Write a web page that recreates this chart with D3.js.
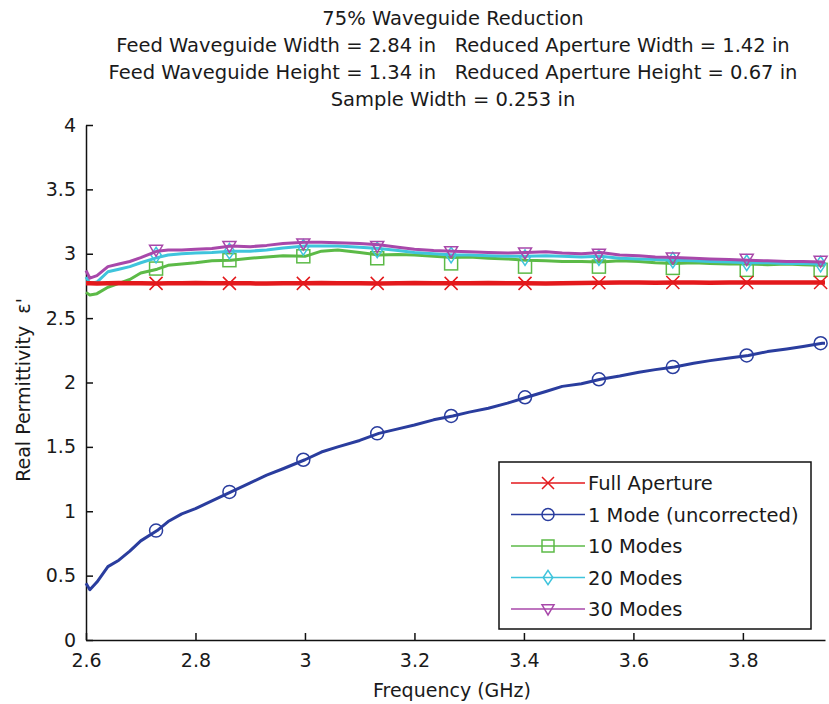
<!DOCTYPE html>
<html>
<head>
<meta charset="utf-8">
<script src="https://cdn.jsdelivr.net/npm/d3@7"></script>
<style>
  body { margin: 0; background: #fff; }
  text { font-family: "DejaVu Sans", sans-serif; fill: #1a1a1a; white-space: pre; }
</style>
</head>
<body>
<div id="chart"></div>
<script>
// Data
const freqs = [2.600, 2.607, 2.62, 2.64, 2.66, 2.68, 2.70, 2.73, 2.75, 2.775, 2.80, 2.83, 2.865, 2.90, 2.93, 2.96,
  3.00, 3.03, 3.06, 3.10, 3.135, 3.17, 3.20, 3.235, 3.27, 3.30, 3.335, 3.37, 3.405, 3.44, 3.47, 3.505,
  3.54, 3.575, 3.61, 3.64, 3.675, 3.71, 3.74, 3.775, 3.81, 3.845, 3.88, 3.91, 3.945, 3.95];

const fullAperture = [2.77, 2.77, 2.768, 2.77, 2.772, 2.77, 2.77, 2.768, 2.77, 2.77, 2.772, 2.77, 2.77, 2.77, 2.768, 2.77,
  2.77, 2.772, 2.77, 2.77, 2.768, 2.77, 2.772, 2.77, 2.77, 2.77, 2.772, 2.77, 2.77, 2.768, 2.77, 2.772,
  2.774, 2.776, 2.776, 2.775, 2.776, 2.776, 2.775, 2.776, 2.776, 2.777, 2.776, 2.777, 2.777, 2.777];

const oneMode = [0.44, 0.39, 0.45, 0.57, 0.62, 0.69, 0.77, 0.85, 0.92, 0.98, 1.02, 1.08, 1.15, 1.22, 1.28, 1.33,
  1.40, 1.46, 1.50, 1.55, 1.605, 1.64, 1.67, 1.71, 1.74, 1.77, 1.80, 1.84, 1.885, 1.93, 1.97, 1.99,
  2.025, 2.05, 2.08, 2.10, 2.12, 2.15, 2.17, 2.19, 2.21, 2.24, 2.26, 2.28, 2.305, 2.305];

const tenModes = [2.70, 2.68, 2.69, 2.74, 2.77, 2.80, 2.85, 2.88, 2.91, 2.92, 2.93, 2.945, 2.95, 2.965, 2.975, 2.985,
  2.98, 3.02, 3.03, 3.01, 2.99, 2.995, 2.99, 2.98, 2.97, 2.975, 2.965, 2.96, 2.95, 2.945, 2.94, 2.94,
  2.935, 2.945, 2.94, 2.93, 2.925, 2.93, 2.925, 2.92, 2.92, 2.915, 2.92, 2.915, 2.91, 2.91];

const twentyModes = [2.82, 2.77, 2.78, 2.86, 2.88, 2.90, 2.93, 2.97, 2.99, 3.00, 3.005, 3.01, 3.02, 3.02, 3.03, 3.045,
  3.06, 3.06, 3.06, 3.05, 3.04, 3.025, 3.01, 3.00, 2.99, 2.99, 2.985, 2.98, 2.98, 2.985, 2.98, 2.975,
  2.98, 2.965, 2.96, 2.955, 2.95, 2.945, 2.94, 2.935, 2.93, 2.93, 2.925, 2.925, 2.92, 2.92];

const thirtyModes = [2.87, 2.81, 2.83, 2.90, 2.92, 2.94, 2.97, 3.02, 3.03, 3.03, 3.035, 3.04, 3.06, 3.055, 3.065, 3.08,
  3.09, 3.09, 3.085, 3.08, 3.07, 3.05, 3.035, 3.025, 3.02, 3.015, 3.01, 3.005, 3.01, 3.015, 3.005, 3.00,
  3.01, 2.99, 2.985, 2.975, 2.97, 2.965, 2.96, 2.955, 2.95, 2.945, 2.94, 2.94, 2.935, 2.935];

// Marker samples
const markerFreqs = [2.728, 2.862, 2.997, 3.132, 3.267, 3.402, 3.537, 3.672, 3.807, 3.942];
const fullMarks = [2.77, 2.77, 2.77, 2.77, 2.77, 2.77, 2.775, 2.776, 2.776, 2.777];
const oneMarks = [0.85, 1.15, 1.40, 1.605, 1.74, 1.885, 2.025, 2.12, 2.21, 2.305];
const tenMarks = [2.885, 2.95, 2.98, 2.965, 2.925, 2.90, 2.90, 2.89, 2.875, 2.875];
const twentyMarks = [2.99, 3.02, 3.05, 3.03, 2.99, 2.97, 2.97, 2.95, 2.93, 2.92];
const thirtyMarks = [3.03, 3.06, 3.08, 3.06, 3.02, 3.01, 3.00, 2.97, 2.96, 2.945];

const seriesNames = ["Full Aperture", "1 Mode (uncorrected)", "10 Modes", "20 Modes", "30 Modes"];
const seriesColors = ["#e3191c", "#2a3d9e", "#5cba47", "#3fc4dc", "#a848aa"];
const seriesSymbols = ["cross", "circle", "square", "diamond", "triangle"];

const xTicks = [2.6, 2.8, 3.0, 3.2, 3.4, 3.6, 3.8];
const yTicks = [0, 0.5, 1, 1.5, 2, 2.5, 3, 3.5, 4];
const titleLines = [
  "75% Waveguide Reduction",
  "Feed Waveguide Width = 2.84 in   Reduced Aperture Width = 1.42 in",
  "Feed Waveguide Height = 1.34 in   Reduced Aperture Height = 0.67 in",
  "Sample Width = 0.253 in"
];

// Layout
const width = 829;
const height = 704;
const margin = { top: 125, right: 4, bottom: 64, left: 86 };
const fontSize = 19;

const svg = d3.select("#chart").append("svg")
  .attr("width", width)
  .attr("height", height);

const x = d3.scaleLinear().domain([2.6, 3.95]).range([margin.left, width - margin.right]);
const y = d3.scaleLinear().domain([0, 4]).range([height - margin.bottom, margin.top]);

//-----------------------------TITLE-----------------------------//
svg.append("g")
  .selectAll("text")
  .data(titleLines)
  .join("text")
  .attr("x", 453)
  .attr("y", (d, i) => 25 + i * 27)
  .attr("text-anchor", "middle")
  .attr("xml:space", "preserve")
  .style("font-size", "19.5px")
  .text(d => d);

//-----------------------------AXES-----------------------------//
const xAxis = d3.axisBottom(x).tickValues(xTicks).tickSizeInner(-7).tickSizeOuter(0)
  .tickPadding(12).tickFormat(d3.format("~g"));
const yAxis = d3.axisLeft(y).tickValues(yTicks).tickSizeInner(-7).tickSizeOuter(0)
  .tickPadding(10).tickFormat(d3.format("~g"));

const gx = svg.append("g")
  .attr("transform", `translate(0,${height - margin.bottom})`)
  .call(xAxis);
const gy = svg.append("g")
  .attr("transform", `translate(${margin.left},0)`)
  .call(yAxis);

[gx, gy].forEach(g => {
  g.select(".domain").attr("stroke", "#111").attr("stroke-width", 1.5);
  g.selectAll(".tick line").attr("stroke", "#111").attr("stroke-width", 1.5);
  g.selectAll(".tick text")
    .style("font-size", fontSize + "px")
    .style("font-family", "DejaVu Sans")
    .attr("fill", "#1a1a1a");
});
gx.selectAll(".tick text").attr("dy", "0.8em");

svg.append("text")
  .attr("x", 452)
  .attr("y", 697)
  .attr("text-anchor", "middle")
  .style("font-size", fontSize + "px")
  .text("Frequency (GHz)");

svg.append("text")
  .attr("transform", "translate(30,390) rotate(-90)")
  .attr("text-anchor", "middle")
  .attr("xml:space", "preserve")
  .style("font-size", fontSize + "px")
  .text("Real Permittivity  \u03b5'");

//-----------------------------LINES-----------------------------//
const lineValues = [fullAperture, oneMode, tenModes, twentyModes, thirtyModes];
const markValues = [fullMarks, oneMarks, tenMarks, twentyMarks, thirtyMarks];
const lineWidths = [4.5, 3, 3, 3, 3];
const drawOrder = [1, 2, 3, 4, 0];

const line = d3.line()
  .x((d, i) => x(freqs[i]))
  .y(d => y(d));

function drawMarker(g, sym, cx, cy, color, r) {
  if (sym === "cross") {
    g.append("path")
      .attr("d", `M${cx - r},${cy - r}L${cx + r},${cy + r}M${cx - r},${cy + r}L${cx + r},${cy - r}`)
      .attr("stroke", color).attr("stroke-width", 1.5).attr("fill", "none");
  } else if (sym === "circle") {
    g.append("circle").attr("cx", cx).attr("cy", cy).attr("r", r)
      .attr("stroke", color).attr("stroke-width", 1.5).attr("fill", "none");
  } else if (sym === "square") {
    g.append("rect").attr("x", cx - r).attr("y", cy - r).attr("width", 2 * r).attr("height", 2 * r)
      .attr("stroke", color).attr("stroke-width", 1.5).attr("fill", "none");
  } else if (sym === "diamond") {
    g.append("path")
      .attr("d", `M${cx},${cy - r * 1.2}L${cx + r * 0.8},${cy}L${cx},${cy + r * 1.2}L${cx - r * 0.8},${cy}Z`)
      .attr("stroke", color).attr("stroke-width", 1.5).attr("fill", "none");
  } else {
    g.append("path")
      .attr("d", `M${cx - r},${cy - r * 0.7}L${cx + r},${cy - r * 0.7}L${cx},${cy + r}Z`)
      .attr("stroke", color).attr("stroke-width", 1.5).attr("fill", "none");
  }
}

const plot = svg.append("g");
drawOrder.forEach(k => {
  const g = plot.append("g");
  g.append("path")
    .datum(lineValues[k])
    .attr("d", line)
    .attr("fill", "none")
    .attr("stroke", seriesColors[k])
    .attr("stroke-width", lineWidths[k])
    .attr("stroke-linejoin", "round");
  markValues[k].forEach((v, i) => {
    drawMarker(g, seriesSymbols[k], x(markerFreqs[i]), y(v), seriesColors[k], 6.5);
  });
});

//-----------------------------LEGEND-----------------------------//
const legend = svg.append("g").attr("transform", "translate(499,462)");
legend.append("rect")
  .attr("width", 312)
  .attr("height", 167)
  .attr("fill", "#fff")
  .attr("stroke", "#111")
  .attr("stroke-width", 1.5);

seriesNames.forEach((name, i) => {
  const cy = 21 + i * 31.5;
  legend.append("line")
    .attr("x1", 12).attr("x2", 86)
    .attr("y1", cy).attr("y2", cy)
    .attr("stroke", seriesColors[i])
    .attr("stroke-width", 1.5);
  drawMarker(legend, seriesSymbols[i], 49, cy, seriesColors[i], 6);
  legend.append("text")
    .attr("x", 89)
    .attr("y", cy)
    .attr("dy", "0.36em")
    .style("font-size", "19.5px")
    .text(name);
});
</script>
</body>
</html>
